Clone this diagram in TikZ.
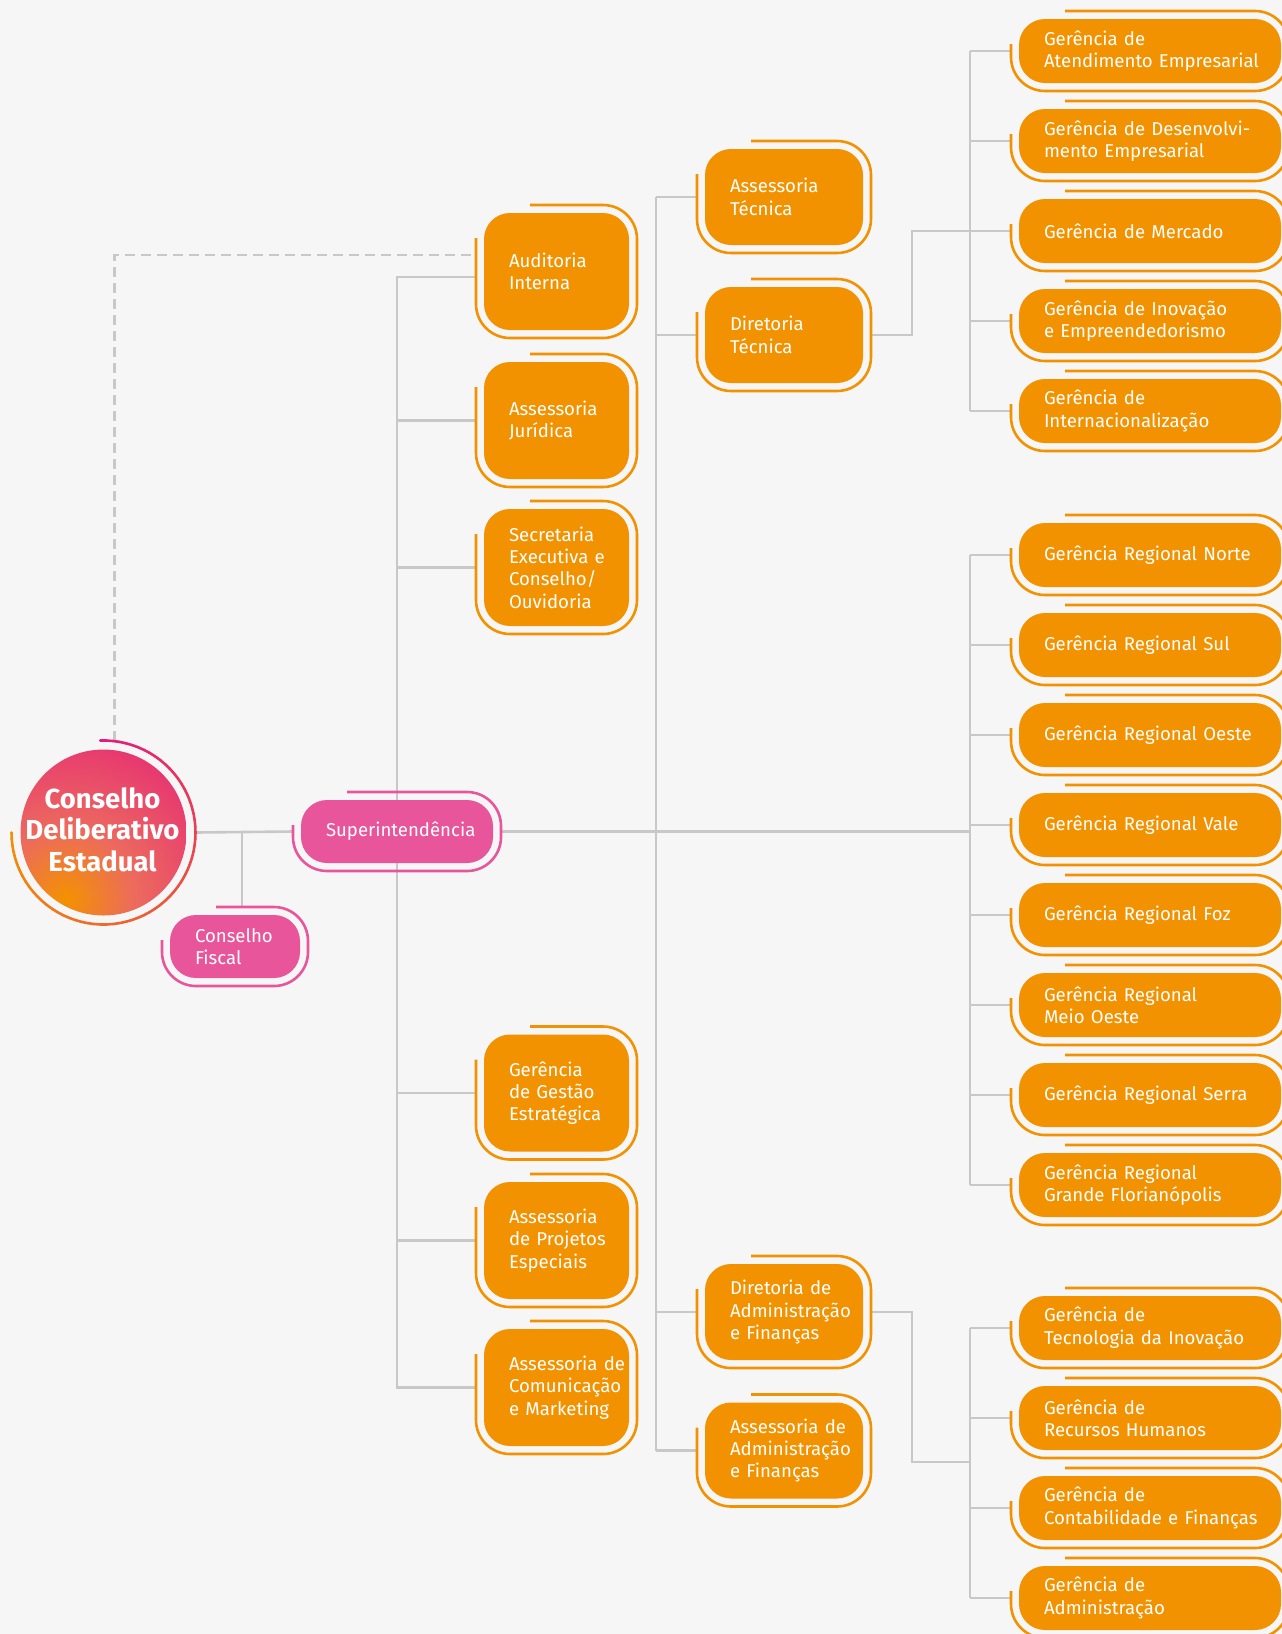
\documentclass[tikz,border=0pt]{standalone}
\usepackage{fontspec}
\setmainfont{Fira Sans}
\usetikzlibrary{calc,backgrounds}
\hyphenpenalty=10000
\exhyphenpenalty=10000
\definecolor{bgc}{HTML}{F6F6F6}
\definecolor{org}{HTML}{F39200}
\definecolor{pnk}{HTML}{E8559A}
\definecolor{mag}{HTML}{E41B7B}
\definecolor{sal}{HTML}{EC6A5E}
\definecolor{lin}{HTML}{C8C8C8}
\pgfdeclareradialshading{cdeshade}{\pgfpoint{0bp}{0bp}}{color(0bp)=(org); color(10bp)=(sal); color(30bp)=(mag); color(50bp)=(mag)}
\tikzset{
  box/.style={rounded corners=26pt, fill=#1, text=white, inner xsep=25pt, inner ysep=0pt,
    outer sep=8pt, align=left, font=\fontsize{18.6}{22.4}\selectfont},
  lc/.style={box=org, minimum width=145pt, minimum height=117pt, text width=95pt},
  mc/.style={box=org, minimum width=158pt, minimum height=96pt, text width=108pt},
  rc/.style={box=org, minimum width=262pt, minimum height=64pt, text width=212pt},
  ringline/.style={line width=2.6pt, rounded corners=34pt},
  conn/.style={draw=lin, line width=2.6pt},
  dconn/.style={draw=lin, line width=2.6pt, dash pattern=on 10pt off 6pt},
}
\newcommand\boxring[2]{\draw[ringline,#2] ($(#1.north west)+(0pt,-33pt)$) |- (#1.south east) |- ($(#1.north west)+(54pt,0pt)$);}
\begin{document}
\begin{tikzpicture}[x=1pt,y=1pt]
\useasboundingbox (0,0) rectangle (1282,-1634);
\begin{pgfonlayer}{background}
\fill[bgc] (0,0) rectangle (1282,-1634);
\end{pgfonlayer}

% root circle
\node[circle, minimum size=166pt, inner sep=0pt, outer sep=9pt,
  path picture={\shade[shading=cdeshade] ([shift={(-38pt,-66pt)}]path picture bounding box.center) circle (175pt);}]
  (cde) at (103.5,-832.5) {};
\node[text=white, align=center, inner sep=0pt, font=\bfseries\fontsize{27.5}{31.7}\selectfont]
  (cdet) at ($(cde.center)+(-1pt,3pt)$) {Conselho\\Deliberativo\\Estadual};
\foreach \a in {92,88,...,-176}{
  \pgfmathtruncatemacro\t{(92-\a)/272*100}
  \draw[line width=2.6pt, line cap=round, color=org!\t!mag] ($(cde.center)+(\a:92pt)$) -- ($(cde.center)+(\a-4:92pt)$);
}

% pink boxes
\node[box=pnk, minimum width=192pt, minimum height=63pt, text width=142pt] (sup) at (397,-831.5) {Superintendência};
\boxring{sup}{pnk}
\node[box=pnk, minimum width=130pt, minimum height=63pt, text width=80pt] (cfi) at (235,-946.5) {Conselho\\Fiscal};
\boxring{cfi}{pnk}

% left column
\node[lc] (aud) at (556.5,-271.5) {Auditoria\\Interna};
\node[lc] (jur) at (556.5,-420.5) {Assessoria\\Jurídica};
\node[lc] (sec) at (556.5,-567.5) {Secretaria\\Executiva~e\\Conselho/\\Ouvidoria};
\node[lc] (ges) at (556.5,-1093) {Gerência\\de~Gestão\\Estratégica};
\node[lc] (proj) at (556.5,-1240.5) {Assessoria\\de~Projetos\\Especiais};
\node[lc] (com) at (556.5,-1387.5) {Assessoria~de\\Comunicação\\e~Marketing};
\foreach \n in {aud,jur,sec,ges,proj,com}{\boxring{\n}{org}}

% middle column
\node[mc] (atec) at (784,-197) {Assessoria\\Técnica};
\node[mc] (dtec) at (784,-335) {Diretoria\\Técnica};
\node[mc] (dadm) at (784,-1312) {Diretoria~de\\Administração\\e~Finanças};
\node[mc] (aadm) at (784,-1450.5) {Assessoria~de\\Administração\\e~Finanças};
\foreach \n in {atec,dtec,dadm,aadm}{\boxring{\n}{org}}

% right column
\node[rc] (ate) at (1150,-51) {Gerência~de\\Atendimento~Empresarial};
\node[rc] (des) at (1150,-141) {Gerência~de~Desenvolvi-\\mento~Empresarial};
\node[rc] (mer) at (1150,-231) {Gerência~de~Mercado};
\node[rc] (ino) at (1150,-321) {Gerência~de~Inovação\\e~Empreendedorismo};
\node[rc] (int) at (1150,-411) {Gerência~de\\Internacionalização};
\node[rc] (rn) at (1150,-555) {Gerência~Regional~Norte};
\node[rc] (rs) at (1150,-645) {Gerência~Regional~Sul};
\node[rc] (ro) at (1150,-735) {Gerência~Regional~Oeste};
\node[rc] (rv) at (1150,-825) {Gerência~Regional~Vale};
\node[rc] (rfz) at (1150,-915) {Gerência~Regional~Foz};
\node[rc] (rmo) at (1150,-1005) {Gerência~Regional\\Meio~Oeste};
\node[rc] (rse) at (1150,-1095) {Gerência~Regional~Serra};
\node[rc] (rgf) at (1150,-1185) {Gerência~Regional\\Grande~Florianópolis};
\node[rc] (tec) at (1150,-1328) {Gerência~de\\Tecnologia~da~Inovação};
\node[rc] (rh) at (1150,-1418) {Gerência~de\\Recursos~Humanos};
\node[rc] (ctf) at (1150,-1508) {Gerência~de\\Contabilidade~e~Finanças};
\node[rc] (adm) at (1150,-1598) {Gerência~de\\Administração};
\foreach \n in {ate,des,mer,ino,int,rn,rs,ro,rv,rfz,rmo,rse,rgf,tec,rh,ctf,adm}{\boxring{\n}{org}}

% connectors
\coordinate (cfx) at (242,0);
\coordinate (mx) at (656,0);
\coordinate (jx) at (912,0);
\coordinate (tx) at (970,0);
\coordinate (aj) at (970,-1462);
\begin{pgfonlayer}{background}
\draw[dconn] (cde.83.4) |- ($(aud.west)+(0pt,16.5pt)$);
\draw[conn] (cde.east) -- (sup.west);
\draw[conn] (cde.east -| cfx) -- (cfx |- cfi.north);
\draw[conn] ($(aud.west)+(0pt,-5.5pt)$) -| (sup.center);
\foreach \n in {jur,sec,ges,proj,com}{\draw[conn] (\n.west) -| (sup.center);}
\draw[conn] (sup.east) -- (sup.east -| tx);
\draw[conn] (atec.west -| mx) -- (aadm.west -| mx);
\foreach \n in {atec,dtec,dadm,aadm}{\draw[conn] (\n.west) -- (\n.west -| mx);}
\draw[conn] (dtec.east) -| (jx |- mer.west) -- (mer.west);
\draw[conn] (dadm.east) -| (jx |- aj) -- (aj);
\draw[conn] (ate.west -| tx) -- (int.west -| tx);
\draw[conn] (rn.west -| tx) -- (rgf.west -| tx);
\draw[conn] (tec.west -| tx) -- (adm.west -| tx);
\foreach \n in {ate,des,mer,ino,int,rn,rs,ro,rv,rfz,rmo,rse,rgf,tec,rh,ctf,adm}{\draw[conn] (\n.west) -- (\n.west -| tx);}
\end{pgfonlayer}
\end{tikzpicture}
\end{document}
